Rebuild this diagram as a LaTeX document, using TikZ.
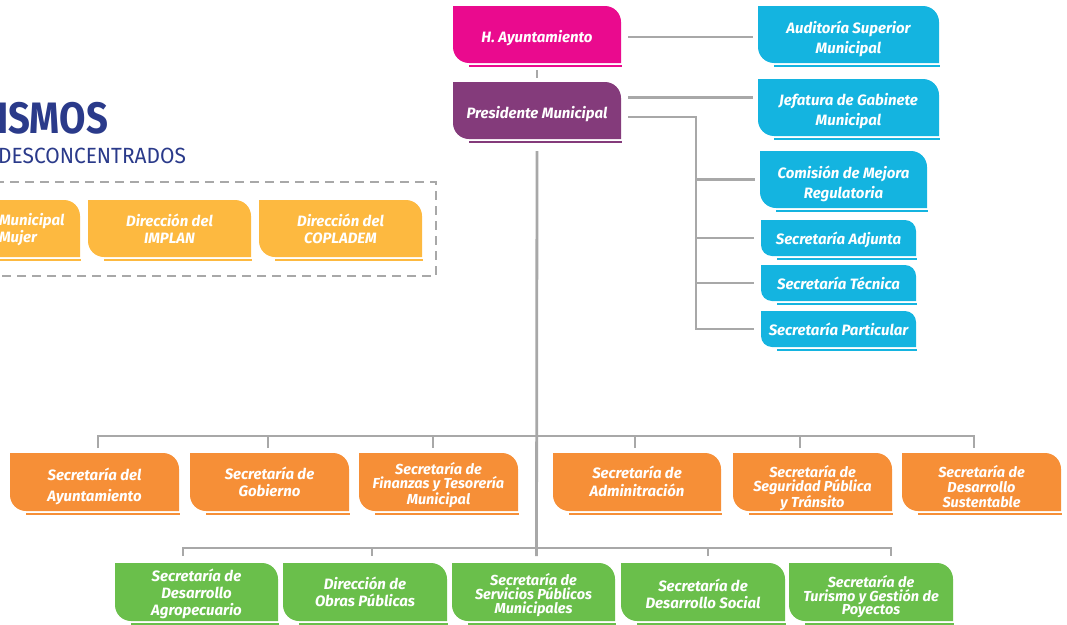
\documentclass[tikz,border=0pt]{standalone}
\usepackage{fontspec}
\setmainfont{Fira Sans}
\definecolor{cpink}{HTML}{EA0A8E}
\definecolor{cpurple}{HTML}{843B7B}
\definecolor{cblue}{HTML}{14B4E0}
\definecolor{cyellow}{HTML}{FDB940}
\definecolor{corange}{HTML}{F68F37}
\definecolor{cgreen}{HTML}{6ABF4B}
\definecolor{linegray}{HTML}{A8A8A8}
\definecolor{titleblue}{HTML}{2A3A8A}
\tikzset{
  shapebox/.style={inner sep=0pt, outer sep=0pt},
  txt/.style={inner sep=0pt, outer sep=0pt, align=center, text=white, yshift=-4pt,
    font=\fontsize{15}{20}\selectfont\bfseries\itshape},
  tight/.style={yshift=1pt, font=\fontsize{14.5}{14.5}\selectfont\bfseries\itshape},
  mid/.style={yshift=4pt, font=\fontsize{15}{17}\selectfont\bfseries\itshape},
  conn/.style={draw=linegray, line width=2.8pt},
}
\def\boxr{16}
% #1 text options, #2 name, #3 left, #4 top, #5 right, #6 bottom, #7 colour, #8 text
\newcommand\orgbox[8][]{%
  \fill[#7] (#3,-#4) -- (#5-\boxr,-#4) arc[start angle=90,end angle=0,radius=\boxr]
    -- (#5,-#6) -- (#3+\boxr,-#6) arc[start angle=270,end angle=180,radius=\boxr] -- cycle;
  \draw[#7, line width=2pt] (#3+16,-#6-3) -- (#5+1,-#6-3);
  \node[shapebox, minimum width={(#5-#3)*1pt}, minimum height={(#6-#4)*1pt}] (#2)
    at ({(#3+#5)/2},{-(#4+#6)/2}) {};
  \node[txt, #1] (#2t) at (#2.center) {#8};
}
\begin{document}
\begin{tikzpicture}[x=1pt,y=1pt]
\useasboundingbox (0,0) rectangle (1067,-624);

% title
\node[anchor=base west, inner sep=0pt, text=titleblue,
  font=\fontsize{44}{44}\selectfont\bfseries] (t1) at (-3,-133) {\scalebox{0.87}[1]{ISMOS}};
\node[anchor=base west, inner sep=0pt, text=titleblue,
  font=\fontsize{22}{22}\selectfont] (t2) at (-2,-163) {\scalebox{0.95}[1]{DESCONCENTRADOS}};

% dashed frame
\draw[linegray, line width=2pt, dash pattern=on 9pt off 6pt]
  (-20,-182) -- (436,-182) -- (436,-276) -- (-20,-276);

% top
\orgbox{ayto}{453}{6}{621}{63}{cpink}{H. Ayuntamiento}
\orgbox{pres}{453}{82}{621}{139}{cpurple}{Presidente Municipal}

\orgbox{aud}{758}{6}{939}{63}{cblue}{Auditoría Superior\\Municipal}
\orgbox{jef}{758}{79}{939}{136}{cblue}{Jefatura de Gabinete\\Municipal}
\orgbox{com}{760}{151}{927}{208}{cblue}{Comisión de Mejora\\Regulatoria}
\def\boxr{11}
\orgbox[yshift=2pt]{adj}{761}{220}{916}{256}{cblue}{Secretaría Adjunta}
\orgbox[yshift=4pt]{tec}{761}{265}{916}{301}{cblue}{Secretaría Técnica}
\orgbox[yshift=4pt]{par}{761}{311}{916}{347}{cblue}{Secretaría Particular}
\def\boxr{16}

% yellow
\orgbox{muj}{-83}{200}{80}{257}{cyellow}{}
\node[txt, mid, yshift=-2pt, anchor=west, align=left] (mujt) at (-1,-228) {Municipal\\Mujer};
\orgbox[mid]{impl}{88}{200}{251}{257}{cyellow}{Dirección del\\IMPLAN}
\orgbox[mid]{copl}{259}{200}{422}{257}{cyellow}{Dirección del\\COPLADEM}

% orange
\orgbox[font=\fontsize{15}{21}\selectfont\bfseries\itshape]{o1}{10}{453}{179}{511}{corange}{Secretaría del\\Ayuntamiento}
\orgbox[mid]{o2}{190}{453}{349}{511}{corange}{Secretaría de\\Gobierno}
\orgbox[tight]{o3}{359}{453}{518}{511}{corange}{Secretaría de\\Finanzas y Tesorería\\Municipal}
\orgbox[mid, yshift=1pt, font=\fontsize{15}{18}\selectfont\bfseries\itshape]{o4}{553}{453}{721}{511}{corange}{Secretaría de\\Adminitración}
\orgbox[tight, yshift=-3pt, font=\fontsize{14.5}{14.5}\selectfont\bfseries\itshape]{o5}{733}{453}{892}{511}{corange}{Secretaría de\\Seguridad Pública\\y Tránsito}
\orgbox[tight, yshift=-2pt, font=\fontsize{14.5}{15}\selectfont\bfseries\itshape]{o6}{902}{453}{1061}{511}{corange}{Secretaría de\\Desarrollo\\Sustentable}

% green
\orgbox[mid, yshift=-2pt]{g1}{115}{563}{278}{621}{cgreen}{Secretaría de\\Desarrollo\\Agropecuario}
\orgbox[mid]{g2}{283}{563}{447}{621}{cgreen}{Dirección de\\Obras Públicas}
\orgbox[tight, font=\fontsize{14.5}{13.7}\selectfont\bfseries\itshape]{g3}{452}{563}{615}{621}{cgreen}{Secretaría de\\Servicios Públicos\\Municipales}
\orgbox[mid, yshift=-2pt]{g4}{621}{563}{785}{621}{cgreen}{Secretaría de\\Desarrollo Social}
\orgbox[tight, yshift=-2pt, font=\fontsize{14.5}{13.5}\selectfont\bfseries\itshape]{g5}{789}{563}{953}{621}{cgreen}{Secretaría de\\Turismo y Gestión de\\Poyectos}

% connectors
\draw[conn] ([yshift=-7pt]ayto.south) -- ([yshift=4pt]pres.north);
\draw[conn] ([yshift=-12pt]pres.south) -- ([xshift=3pt,yshift=7pt]g3.north);
\draw[conn] ([xshift=7pt,yshift=-2.5pt]ayto.east) -- ([xshift=-5pt,yshift=-2.5pt]aud.west);
\coordinate (pj) at ([xshift=7pt,yshift=13pt]pres.east);
\draw[conn] (pj) -- ([xshift=-5pt]pj -| jef.west);
\coordinate (pb) at ([xshift=7pt,yshift=-6.5pt]pres.east);
\coordinate (vb) at (696,-117);
\draw[conn] (pb) -- (vb) -- (vb |- par.west) -- ([xshift=-7pt]par.west);
\draw[conn] (vb |- com.west) -- ([xshift=-5pt]com.west);
\draw[conn] (vb |- adj.west) -- ([xshift=-7pt]adj.west);
\draw[conn] (vb |- tec.west) -- ([xshift=-7pt]tec.west);

% orange bus
\coordinate (ob) at (537,-436);
\draw[conn] ([xshift=3.5pt,yshift=5pt]o1.north) -- ([xshift=3.5pt]o1.north |- ob)
  -- ([xshift=-7.5pt]o6.north |- ob) -- ([xshift=-7.5pt,yshift=5pt]o6.north);
\draw[conn] ([xshift=-1.5pt,yshift=5pt]o2.north) -- ([xshift=-1.5pt]o2.north |- ob);
\draw[conn] ([xshift=-5.5pt,yshift=5pt]o3.north) -- ([xshift=-5.5pt]o3.north |- ob);
\draw[conn] ([xshift=-2pt,yshift=5pt]o4.north) -- ([xshift=-2pt]o4.north |- ob);
\draw[conn] ([xshift=-12.5pt,yshift=5pt]o5.north) -- ([xshift=-12.5pt]o5.north |- ob);

% green bus
\coordinate (gb) at (537,-548);
\draw[conn] ([xshift=-13.5pt,yshift=7pt]g1.north) -- ([xshift=-13.5pt]g1.north |- gb)
  -- ([xshift=20pt]g5.north |- gb) -- ([xshift=20pt,yshift=7pt]g5.north);
\draw[conn] ([xshift=7pt,yshift=7pt]g2.north) -- ([xshift=7pt]g2.north |- gb);
\draw[conn] ([xshift=5pt,yshift=7pt]g4.north) -- ([xshift=5pt]g4.north |- gb);
\end{tikzpicture}
\end{document}
